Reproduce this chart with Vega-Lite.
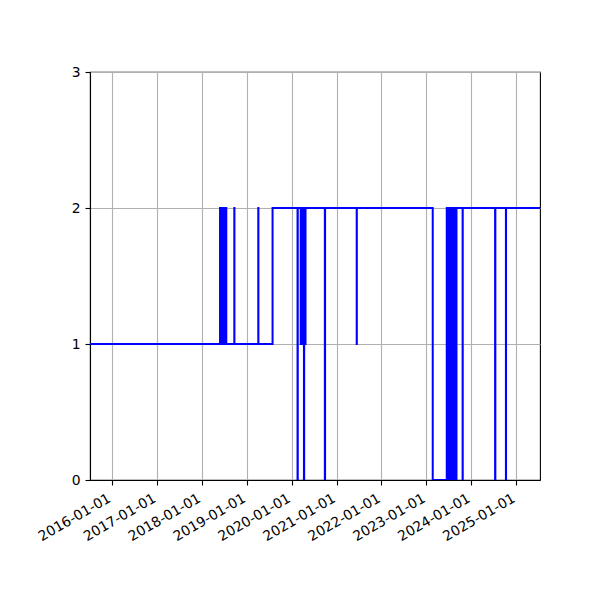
{
  "$schema": "https://vega.github.io/schema/vega-lite/v6.json",
  "width": 450,
  "height": 408,
  "autosize": {"type": "none"},
  "padding": {"left": 90, "top": 72, "right": 60, "bottom": 120},
  "background": "white",
  "config": {
    "view": {"stroke": "black", "strokeWidth": 1.1},
    "axis": {
      "domainColor": "black",
      "domainWidth": 1.1,
      "tickColor": "black",
      "tickWidth": 1.1,
      "tickSize": 5,
      "labelPadding": 4,
      "labelFont": "DejaVu Sans",
      "labelFontSize": 13.9,
      "labelColor": "black",
      "gridColor": "#b0b0b0",
      "gridWidth": 1.1,
      "title": null
    }
  },
  "data": {
    "values": [
      {"date": "2015-07-08", "value": 1},
      {"date": "2018-05-30", "value": 2},
      {"date": "2018-06-03", "value": 1},
      {"date": "2018-06-07", "value": 2},
      {"date": "2018-06-11", "value": 1},
      {"date": "2018-06-15", "value": 2},
      {"date": "2018-06-19", "value": 1},
      {"date": "2018-06-23", "value": 2},
      {"date": "2018-06-27", "value": 1},
      {"date": "2018-07-01", "value": 2},
      {"date": "2018-07-05", "value": 1},
      {"date": "2018-07-09", "value": 2},
      {"date": "2018-07-13", "value": 1},
      {"date": "2018-07-17", "value": 2},
      {"date": "2018-07-20", "value": 1},
      {"date": "2018-09-23", "value": 2},
      {"date": "2018-09-24", "value": 1},
      {"date": "2019-04-06", "value": 2},
      {"date": "2019-04-07", "value": 1},
      {"date": "2019-07-31", "value": 2},
      {"date": "2020-02-19", "value": 0},
      {"date": "2020-02-21", "value": 2},
      {"date": "2020-03-16", "value": 1},
      {"date": "2020-03-20", "value": 2},
      {"date": "2020-03-24", "value": 1},
      {"date": "2020-03-28", "value": 2},
      {"date": "2020-04-01", "value": 1},
      {"date": "2020-04-05", "value": 2},
      {"date": "2020-04-09", "value": 1},
      {"date": "2020-04-11", "value": 0},
      {"date": "2020-04-13", "value": 2},
      {"date": "2020-04-17", "value": 1},
      {"date": "2020-04-21", "value": 2},
      {"date": "2020-04-23", "value": 1},
      {"date": "2020-04-24", "value": 2},
      {"date": "2020-09-28", "value": 0},
      {"date": "2020-09-30", "value": 2},
      {"date": "2021-06-14", "value": 1},
      {"date": "2021-06-15", "value": 2},
      {"date": "2023-02-22", "value": 0},
      {"date": "2023-06-16", "value": 2},
      {"date": "2023-06-21", "value": 0},
      {"date": "2023-06-26", "value": 2},
      {"date": "2023-07-01", "value": 0},
      {"date": "2023-07-06", "value": 2},
      {"date": "2023-07-11", "value": 0},
      {"date": "2023-07-16", "value": 2},
      {"date": "2023-07-21", "value": 0},
      {"date": "2023-07-26", "value": 2},
      {"date": "2023-07-31", "value": 0},
      {"date": "2023-08-05", "value": 2},
      {"date": "2023-08-10", "value": 0},
      {"date": "2023-08-15", "value": 2},
      {"date": "2023-08-20", "value": 0},
      {"date": "2023-08-25", "value": 2},
      {"date": "2023-08-30", "value": 0},
      {"date": "2023-09-03", "value": 2},
      {"date": "2023-10-23", "value": 0},
      {"date": "2023-10-24", "value": 2},
      {"date": "2024-07-13", "value": 0},
      {"date": "2024-07-15", "value": 2},
      {"date": "2024-10-09", "value": 0},
      {"date": "2024-10-10", "value": 2},
      {"date": "2025-07-13", "value": 2}
    ]
  },
  "mark": {"type": "line", "interpolate": "step-after", "color": "#0000ff", "strokeWidth": 2, "clip": true},
  "encoding": {
    "x": {
      "field": "date",
      "type": "temporal",
      "scale": {
        "type": "utc",
        "domain": [
          {"year": 2015, "month": 7, "date": 8, "utc": true},
          {"year": 2025, "month": 7, "date": 13, "utc": true}
        ],
        "nice": false
      },
      "axis": {
        "values": [
          {"year": 2016, "month": 1, "date": 1, "utc": true},
          {"year": 2017, "month": 1, "date": 1, "utc": true},
          {"year": 2018, "month": 1, "date": 1, "utc": true},
          {"year": 2019, "month": 1, "date": 1, "utc": true},
          {"year": 2020, "month": 1, "date": 1, "utc": true},
          {"year": 2021, "month": 1, "date": 1, "utc": true},
          {"year": 2022, "month": 1, "date": 1, "utc": true},
          {"year": 2023, "month": 1, "date": 1, "utc": true},
          {"year": 2024, "month": 1, "date": 1, "utc": true},
          {"year": 2025, "month": 1, "date": 1, "utc": true}
        ],
        "labelExpr": "utcFormat(datum.value, '%Y-%m-%d')",
        "labelAngle": -30,
        "labelAlign": "right",
        "labelBaseline": "top",
        "labelOffset": -6,
        "labelPadding": 6,
        "labelFlush": false,
        "labelOverlap": false,
        "grid": true
      }
    },
    "y": {
      "field": "value",
      "type": "quantitative",
      "scale": {"domain": [0, 3], "nice": false, "zero": false},
      "axis": {"values": [0, 1, 2, 3], "grid": true, "labelPadding": 5}
    }
  }
}
